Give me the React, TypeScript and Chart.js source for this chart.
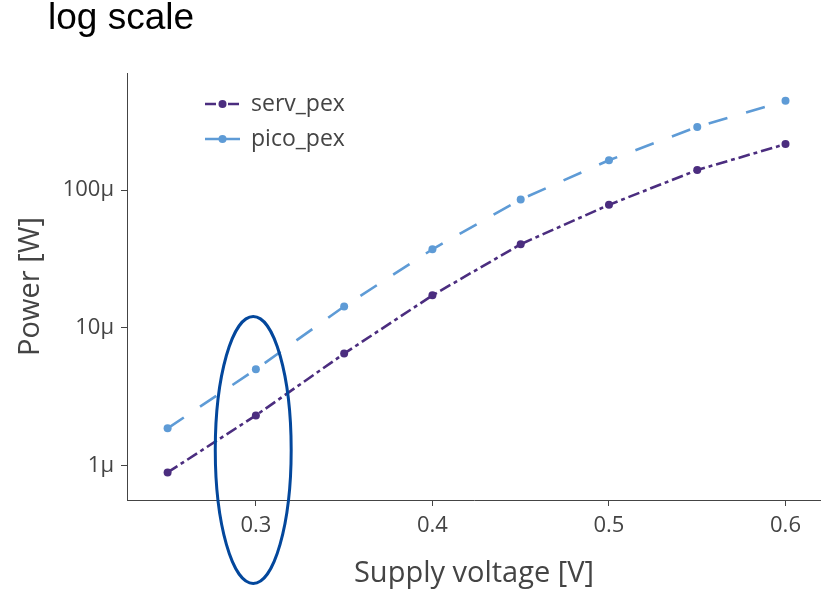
import { useEffect, useRef } from "react";
import { Chart, registerables } from "chart.js";

Chart.register(...registerables);

const VOLTAGES = [0.25, 0.3, 0.35, 0.4, 0.45, 0.5, 0.55, 0.6];
const SERV_PEX = [0.89e-6, 2.31e-6, 6.5e-6, 17.2e-6, 40.5e-6, 78.2e-6, 140e-6, 216e-6];
const PICO_PEX = [1.86e-6, 4.99e-6, 14.3e-6, 37.2e-6, 85.6e-6, 165e-6, 288e-6, 446e-6];
const SERIES_LABELS = ["serv_pex", "pico_pex"];
const X_TICKS = [0.3, 0.4, 0.5, 0.6];
const X_TICK_LABELS = ["0.3", "0.4", "0.5", "0.6"];
const Y_TICKS = [1e-6, 1e-5, 1e-4];
const Y_TICK_LABELS = ["1μ", "10μ", "100μ"];
const TITLE = "log scale";
const X_TITLE = "Supply voltage [V]";
const Y_TITLE = "Power [W]";
const X_RANGE = [0.227, 0.6201];
const Y_RANGE = [Math.pow(10, -6.251), Math.pow(10, -3.149)];
// highlight ellipse around the 0.3 V column, in data units
const HIGHLIGHT = { x: 0.2985, halfWidth: 0.0215, yTop: 12.1e-6, yBottom: 1.39e-7 };

const SERV_COLOR = "#4b2d7f";
const PICO_COLOR = "#5e9bd6";
const AXIS_COLOR = "#444444";
const FONT = "'Open Sans', 'Noto Sans', sans-serif";

const overlayPlugin = {
  id: "overlay",
  afterDraw(chart: any) {
    const ctx = chart.ctx as CanvasRenderingContext2D;
    const xs = chart.scales.x;
    const ys = chart.scales.y;
    ctx.save();
    // title
    ctx.fillStyle = "#000";
    ctx.font = "37px 'Liberation Sans', Arial, sans-serif";
    ctx.textAlign = "left";
    ctx.textBaseline = "alphabetic";
    ctx.fillText(TITLE, 48, 29);

    // legend
    const rows = [104, 139];
    chart.data.datasets.forEach((ds: any, i: number) => {
      const y = rows[i];
      ctx.save();
      ctx.strokeStyle = ds.borderColor;
      ctx.lineWidth = ds.borderWidth;
      ctx.setLineDash(i === 0 ? [11, 4, 4, 4] : []);
      ctx.beginPath();
      ctx.moveTo(205, y);
      ctx.lineTo(240, y);
      ctx.stroke();
      ctx.setLineDash([]);
      ctx.fillStyle = ds.borderColor;
      ctx.beginPath();
      ctx.arc(222.5, y, 4, 0, Math.PI * 2);
      ctx.fill();
      ctx.restore();
      ctx.fillStyle = AXIS_COLOR;
      ctx.font = `23px ${FONT}`;
      ctx.textBaseline = "middle";
      ctx.textAlign = "left";
      ctx.fillText(ds.label, 251, y);
    });

    // highlight ellipse
    const cx = xs.getPixelForValue(HIGHLIGHT.x);
    const rx = Math.abs(xs.getPixelForValue(HIGHLIGHT.x + HIGHLIGHT.halfWidth) - cx);
    const yt = ys.getPixelForValue(HIGHLIGHT.yTop);
    const yb = ys.getPixelForValue(HIGHLIGHT.yBottom);
    ctx.strokeStyle = "#03479c";
    ctx.lineWidth = 3;
    ctx.beginPath();
    ctx.ellipse(cx, (yt + yb) / 2, rx, Math.abs(yb - yt) / 2, 0, 0, Math.PI * 2);
    ctx.stroke();
    ctx.restore();
  },
};

export default function App() {
  const ref = useRef<HTMLCanvasElement | null>(null);
  useEffect(() => {
    if (!ref.current) return;
    const chart = new Chart(ref.current, {
      type: "line",
      data: {
        datasets: [
          {
            label: SERIES_LABELS[0],
            data: VOLTAGES.map((v, i) => ({ x: v, y: SERV_PEX[i] })),
            borderColor: SERV_COLOR,
            backgroundColor: SERV_COLOR,
            borderWidth: 2.6,
            borderDash: [11.7, 3.9, 3.9, 3.9],
            pointRadius: 4,
            pointBorderWidth: 0,
            pointBackgroundColor: SERV_COLOR,
            tension: 0,
          },
          {
            label: SERIES_LABELS[1],
            data: VOLTAGES.map((v, i) => ({ x: v, y: PICO_PEX[i] })),
            borderColor: PICO_COLOR,
            backgroundColor: PICO_COLOR,
            borderWidth: 2.6,
            borderDash: [19.5, 19.5],
            pointRadius: 4,
            pointBorderWidth: 0,
            pointBackgroundColor: PICO_COLOR,
            tension: 0,
          },
        ],
      },
      options: {
        animation: false,
        responsive: false,
        layout: { autoPadding: false, padding: { top: 73, left: 0, right: 0, bottom: 0 } },
        plugins: {
          legend: { display: false },
          tooltip: { enabled: false },
          title: { display: false },
        },
        scales: {
          x: {
            type: "linear",
            min: X_RANGE[0],
            max: X_RANGE[1],
            afterFit: (s: any) => {
              s.height = 91;
              s.paddingLeft = 0;
              s.paddingRight = 0;
            },
            afterBuildTicks: (s: any) => {
              s.ticks = X_TICKS.map((v) => ({ value: v }));
            },
            ticks: {
              color: AXIS_COLOR,
              font: { family: FONT, size: 22 },
              padding: 7,
              maxRotation: 0,
              callback: (v: any) => {
                const i = X_TICKS.findIndex((t) => Math.abs(t - Number(v)) < 1e-9);
                return i >= 0 ? X_TICK_LABELS[i] : "";
              },
            },
            grid: {
              drawOnChartArea: false,
              drawTicks: true,
              tickLength: 6,
              color: AXIS_COLOR,
            },
            border: { display: true, color: AXIS_COLOR, width: 1 },
            title: {
              display: true,
              text: X_TITLE,
              color: AXIS_COLOR,
              font: { family: FONT, size: 29 },
              padding: { top: 0, bottom: 0 },
            },
          },
          y: {
            type: "logarithmic",
            min: Y_RANGE[0],
            max: Y_RANGE[1],
            afterFit: (s: any) => {
              s.width = 127;
              s.paddingTop = 0;
              s.paddingBottom = 0;
            },
            afterBuildTicks: (s: any) => {
              s.ticks = Y_TICKS.map((v) => ({ value: v }));
            },
            ticks: {
              color: AXIS_COLOR,
              font: { family: FONT, size: 22 },
              padding: 7,
              callback: (v: any) => {
                const i = Y_TICKS.findIndex((t) => Math.abs(t - Number(v)) / t < 1e-6);
                return i >= 0 ? Y_TICK_LABELS[i] : "";
              },
            },
            grid: {
              drawOnChartArea: false,
              drawTicks: true,
              tickLength: 6,
              color: AXIS_COLOR,
            },
            border: { display: true, color: AXIS_COLOR, width: 1 },
            title: {
              display: true,
              text: Y_TITLE,
              color: AXIS_COLOR,
              font: { family: FONT, size: 29 },
              padding: { top: 13, bottom: 0 },
            },
          },
        },
      },
      plugins: [overlayPlugin],
    });
    return () => chart.destroy();
  }, []);

  return (
    <div style={{ position: "fixed", left: 0, top: 0, width: 821, height: 591, background: "#fff" }}>
      <canvas ref={ref} width={821} height={591} style={{ width: 821, height: 591, display: "block" }} />
    </div>
  );
}
